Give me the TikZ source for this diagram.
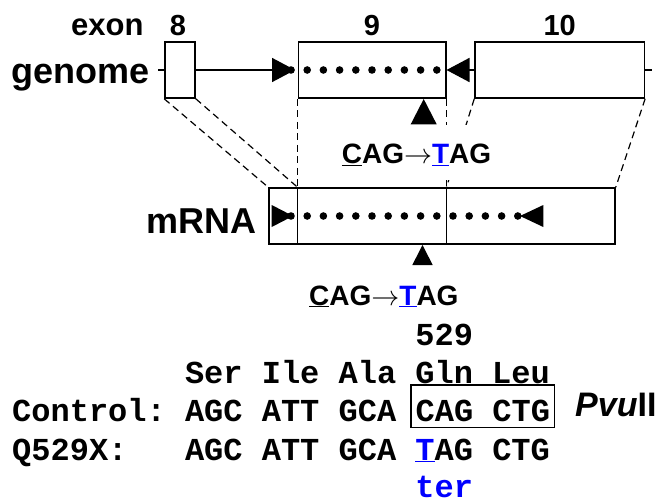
\RequirePackage{fix-cm}
\documentclass[tikz,border=0pt]{standalone}
\usepackage{fontspec}
\setmainfont{Liberation Sans}
\newfontfamily\seqfont{Liberation Mono}
\usepackage{tikz}
\usetikzlibrary{arrows.meta, positioning}
\definecolor{mutblue}{RGB}{0,0,255}

\begin{document}
\begin{tikzpicture}[
  x=1pt, y=-1pt,
  exonbox/.style={draw, line width=1.6pt, minimum height=56pt, inner sep=0pt},
  lbl/.style={inner sep=0pt, font=\fontsize{#1}{#1}\selectfont\bfseries},
  seq/.style={inner sep=0pt, anchor=base west, font=\fontsize{32}{32}\seqfont\bfseries\frenchspacing},
  splice/.style={line width=1.2pt, dash pattern=on 7pt off 4.5pt},
  bigtip/.style={-{Triangle[length=23pt, width=24pt]}, line width=1.6pt}
]
  \useasboundingbox (0,0) rectangle (661,503);

  \node[exonbox, minimum width=30pt] (ex8) at (180,70) {};
  \node[exonbox, minimum width=147.4pt] (ex9) at (372,70) {};
  \node[exonbox, minimum width=169.3pt] (ex10) at (559.7,70) {};
  \node[exonbox, minimum width=346pt] (mrna) at (442,216) {};
  \coordinate (gL) at (158,70);
  \coordinate (gR) at (651.7,70);

  \node[lbl=29, above=5pt of ex8, xshift=-2pt] (n8) {8};
  \node[lbl=29, above=5pt of ex9] (n9) {9};
  \node[lbl=29, above=5pt of ex10] (n10) {10};
  \node[lbl=31, base left=26pt of n8] (exon) {exon};
  \node[lbl=36, anchor=base east] (genome) at (150,83.3) {genome};
  \node[lbl=36, anchor=base east] (mrnalbl) at (256.7,233.3) {mRNA};

  \draw[line width=1.6pt] (gL) -- (ex8);
  \draw[bigtip, shorten >=2.5pt] (ex8) -- (ex9);
  \draw[bigtip] (ex10) -- (ex9);
  \draw[line width=1.6pt] (ex10) -- (gR);
  \foreach \k in {0,...,9}
    \fill (291+16.2*\k,70) circle (3.8pt);

  \draw[line width=1.1pt] (ex9.south west |- mrna.north) -- (ex9.south west |- mrna.south);
  \draw[line width=1.1pt] (ex9.south east |- mrna.north) -- (ex9.south east |- mrna.south);
  \fill (271.7,205) -- (293,216) -- (271.7,227) -- cycle;
  \fill (543.3,205) -- (520,216) -- (543.3,227) -- cycle;
  \foreach \k in {0,...,14}
    \fill (291+16.2*\k,216) circle (3.8pt);

  \draw[splice] (ex8.south west) -- (mrna.north west);
  \draw[splice] (ex8.south east) -- (ex9.south west |- mrna.north);
  \draw[splice] (ex9.south west) -- (ex9.south west |- mrna.north);
  \draw[splice] (ex9.south east) -- (ex9.south east |- mrna.north);
  \draw[splice] (ex10.south west) -- (ex9.south east |- mrna.north);
  \draw[splice] (ex10.south east) -- (mrna.north east);

  \node[lbl=28, fill=white, anchor=base west, inner xsep=2pt,
        text height=38.5pt, text depth=16.5pt] (mutg) at (339.7,163.3)
    {\underline{C}AG$\rightarrow${\color{mutblue}\underline{T}}AG};
  \fill (410.7,124.3) -- (423.7,99) -- (436.7,124.3) -- cycle;
  \fill (412.3,265) -- (422.5,245) -- (432.7,265) -- cycle;
  \node[lbl=28, anchor=base west] (mutm) at (309,305)
    {\underline{C}AG$\rightarrow${\color{mutblue}\underline{T}}AG};

  \node[seq] (num) at (415.2,345) {529};
  \node[seq] (aa) at (184.8,383.5) {Ser Ile Ala Gln Leu};
  \node[seq] (ctrl) at (12,421.7) {Control: AGC ATT GCA};
  \node[seq, draw, line width=1.3pt, inner xsep=4.5pt, inner ysep=5.6pt,
        text height=31pt, text depth=0pt, base right=14pt of ctrl] (pvusite) {CAG CTG};
  \node[lbl=34, anchor=base west] (pvu) at (575,416.7) {\itshape Pvu\upshape II};
  \node[seq] (q529x) at (12,460) {Q529X:~~~AGC ATT GCA {\color{mutblue}\underline{T}}AG CTG};
  \node[seq, text=mutblue] (ter) at (415.2,497.5) {ter};
\end{tikzpicture}
\end{document}
